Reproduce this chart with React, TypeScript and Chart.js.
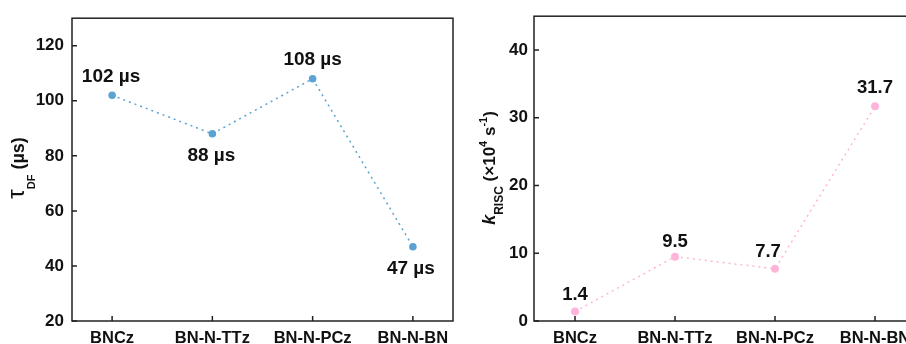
import React, { useEffect, useRef } from "react";
import { Chart, registerables } from "chart.js";

Chart.register(...registerables);

const categories = ["BNCz", "BN-N-TTz", "BN-N-PCz", "BN-N-BN"];
const tauValues = [102, 88, 108, 47];
const tauLabels = ["102 µs", "88 µs", "108 µs", "47 µs"];
const tauTicks = [20, 40, 60, 80, 100, 120];
const kValues = [1.4, 9.5, 7.7, 31.7];
const kLabels = ["1.4", "9.5", "7.7", "31.7"];
const kTicks = [0, 10, 20, 30, 40];

const FONT = '"Liberation Sans", Arial, sans-serif';
const AXIS = "#222222";

type Seg = { text: string; font: string; dy: number };

function drawRotatedRich(ctx: CanvasRenderingContext2D, x: number, yc: number, segs: Seg[]) {
  ctx.save();
  let total = 0;
  const widths = segs.map((s) => {
    ctx.font = s.font;
    const w = ctx.measureText(s.text).width;
    total += w;
    return w;
  });
  ctx.translate(x, yc);
  ctx.rotate(-Math.PI / 2);
  ctx.fillStyle = "#111";
  ctx.textBaseline = "alphabetic";
  ctx.textAlign = "left";
  let cx = -total / 2;
  segs.forEach((s, i) => {
    ctx.font = s.font;
    ctx.fillText(s.text, cx, s.dy);
    cx += widths[i];
  });
  ctx.restore();
}

function makeConfig(opts: {
  values: number[];
  labels: string[];
  ticks: number[];
  yMin: number;
  yMax: number;
  xMin: number;
  xMax: number;
  color: string;
  pointRadius: number;
  axisWidth: number;
  yPad: number;
  labelFont: string;
  labelOffsets: [number, number][];
  titleX: number;
  titleY: number;
  title: Seg[];
}) {
  const framePlugin = {
    id: "frame",
    beforeDatasetsDraw(chart: any) {
      const { ctx, chartArea } = chart;
      const { left, right, top, bottom } = chartArea;
      ctx.save();
      ctx.strokeStyle = AXIS;
      ctx.lineWidth = 1.5;
      ctx.strokeRect(left, top, right - left, bottom - top);
      ctx.beginPath();
      const ys = chart.scales.y;
      ys.ticks.forEach((t: any) => {
        const y = ys.getPixelForValue(t.value);
        ctx.moveTo(left, y);
        ctx.lineTo(left + 5, y);
      });
      const xs = chart.scales.x;
      categories.forEach((_, i) => {
        const x = xs.getPixelForValue(i);
        ctx.moveTo(x, bottom);
        ctx.lineTo(x, bottom - 5);
      });
      ctx.stroke();
      ctx.restore();
    },
    afterDatasetsDraw(chart: any) {
      const { ctx } = chart;
      const meta = chart.getDatasetMeta(0);
      ctx.save();
      ctx.font = opts.labelFont;
      ctx.fillStyle = "#111";
      ctx.textAlign = "center";
      ctx.textBaseline = "middle";
      meta.data.forEach((pt: any, i: number) => {
        const [dx, dy] = opts.labelOffsets[i];
        ctx.fillText(opts.labels[i], pt.x + dx, pt.y + dy);
      });
      ctx.restore();
      drawRotatedRich(ctx, opts.titleX, opts.titleY, opts.title);
    },
  };

  return {
    type: "line" as const,
    data: {
      datasets: [
        {
          data: opts.values.map((v, i) => ({ x: i, y: v })),
          borderColor: opts.color,
          backgroundColor: opts.color,
          borderWidth: 1.5,
          borderDash: [2, 4],
          pointRadius: opts.pointRadius,
          pointBorderWidth: 0,
          pointBackgroundColor: opts.color,
          tension: 0,
        },
      ],
    },
    options: {
      responsive: false,
      animation: false as const,
      devicePixelRatio: 1,
      layout: { padding: { top: 14, right: 7, left: 0, bottom: 0 } },
      plugins: { legend: { display: false }, tooltip: { enabled: false } },
      scales: {
        x: {
          type: "linear" as const,
          min: opts.xMin,
          max: opts.xMax,
          afterBuildTicks: (s: any) => {
            s.ticks = categories.map((_, i) => ({ value: i }));
          },
          afterFit: (s: any) => {
            s.height = 23;
          },
          ticks: {
            callback: (v: any) => categories[v] ?? "",
            font: { family: FONT, size: 16.5, weight: "bold" as const },
            color: "#111",
            padding: 8,
            maxRotation: 0,
            autoSkip: false,
          },
          grid: { display: false, drawTicks: false },
          border: { display: false },
        },
        y: {
          type: "linear" as const,
          min: opts.yMin,
          max: opts.yMax,
          afterBuildTicks: (s: any) => {
            s.ticks = opts.ticks.map((v) => ({ value: v }));
          },
          afterFit: (s: any) => {
            s.width = opts.axisWidth;
          },
          ticks: {
            font: { family: FONT, size: 17, weight: "bold" as const },
            color: "#111",
            padding: opts.yPad,
          },
          grid: { display: false, drawTicks: false },
          border: { display: false },
        },
      },
    },
    plugins: [framePlugin],
  };
}

function ChartCanvas({ config, width, height, left }: any) {
  const ref = useRef<HTMLCanvasElement>(null);
  useEffect(() => {
    if (!ref.current) return;
    const chart = new Chart(ref.current, config);
    return () => chart.destroy();
  }, []);
  return (
    <canvas
      ref={ref}
      width={width}
      height={height}
      style={{ position: "absolute", left, top: 0, width, height, display: "block" }}
    />
  );
}

export default function App() {
  const leftConfig = makeConfig({
    values: tauValues,
    labels: tauLabels,
    ticks: tauTicks,
    yMin: 20,
    yMax: 130,
    xMin: -0.4,
    xMax: 3.4,
    color: "#5aa3d2",
    pointRadius: 3.8,
    axisWidth: 72,
    yPad: 8,
    labelFont: `bold 19px ${FONT}`,
    labelOffsets: [
      [-1, -19],
      [-1, 22],
      [0, -19],
      [-2, 22],
    ],
    titleX: 24,
    titleY: 168,
    title: [
      { text: "τ", font: `24px ${FONT}`, dy: 0 },
      { text: "DF", font: `bold 11px ${FONT}`, dy: 11 },
      { text: " (µs)", font: `bold 18px ${FONT}`, dy: 0 },
    ],
  });
  const rightConfig = makeConfig({
    values: kValues,
    labels: kLabels,
    ticks: kTicks,
    yMin: 0,
    yMax: 45,
    xMin: -0.41,
    xMax: 3.41,
    color: "#ffb5da",
    pointRadius: 4,
    axisWidth: 74,
    yPad: 6,
    labelFont: `bold 18.5px ${FONT}`,
    labelOffsets: [
      [0, -17],
      [0, -15],
      [-7, -17],
      [0, -18],
    ],
    titleX: 35,
    titleY: 168,
    title: [
      { text: "k", font: `italic bold 18px ${FONT}`, dy: 0 },
      { text: "RISC", font: `bold 12px ${FONT}`, dy: 8 },
      { text: " (×10", font: `bold 17px ${FONT}`, dy: 0 },
      { text: "4", font: `bold 11px ${FONT}`, dy: -8 },
      { text: " s", font: `bold 17px ${FONT}`, dy: 0 },
      { text: "-1", font: `bold 11px ${FONT}`, dy: -8 },
      { text: ")", font: `bold 17px ${FONT}`, dy: 0 },
    ],
  });
  return (
    <div
      style={{
        position: "fixed",
        left: 0,
        top: 0,
        width: 906,
        height: 344,
        overflow: "hidden",
        background: "#fff",
      }}
    >
      <ChartCanvas config={leftConfig} width={460} height={344} left={0} />
      <ChartCanvas config={rightConfig} width={463} height={344} left={460} />
    </div>
  );
}
